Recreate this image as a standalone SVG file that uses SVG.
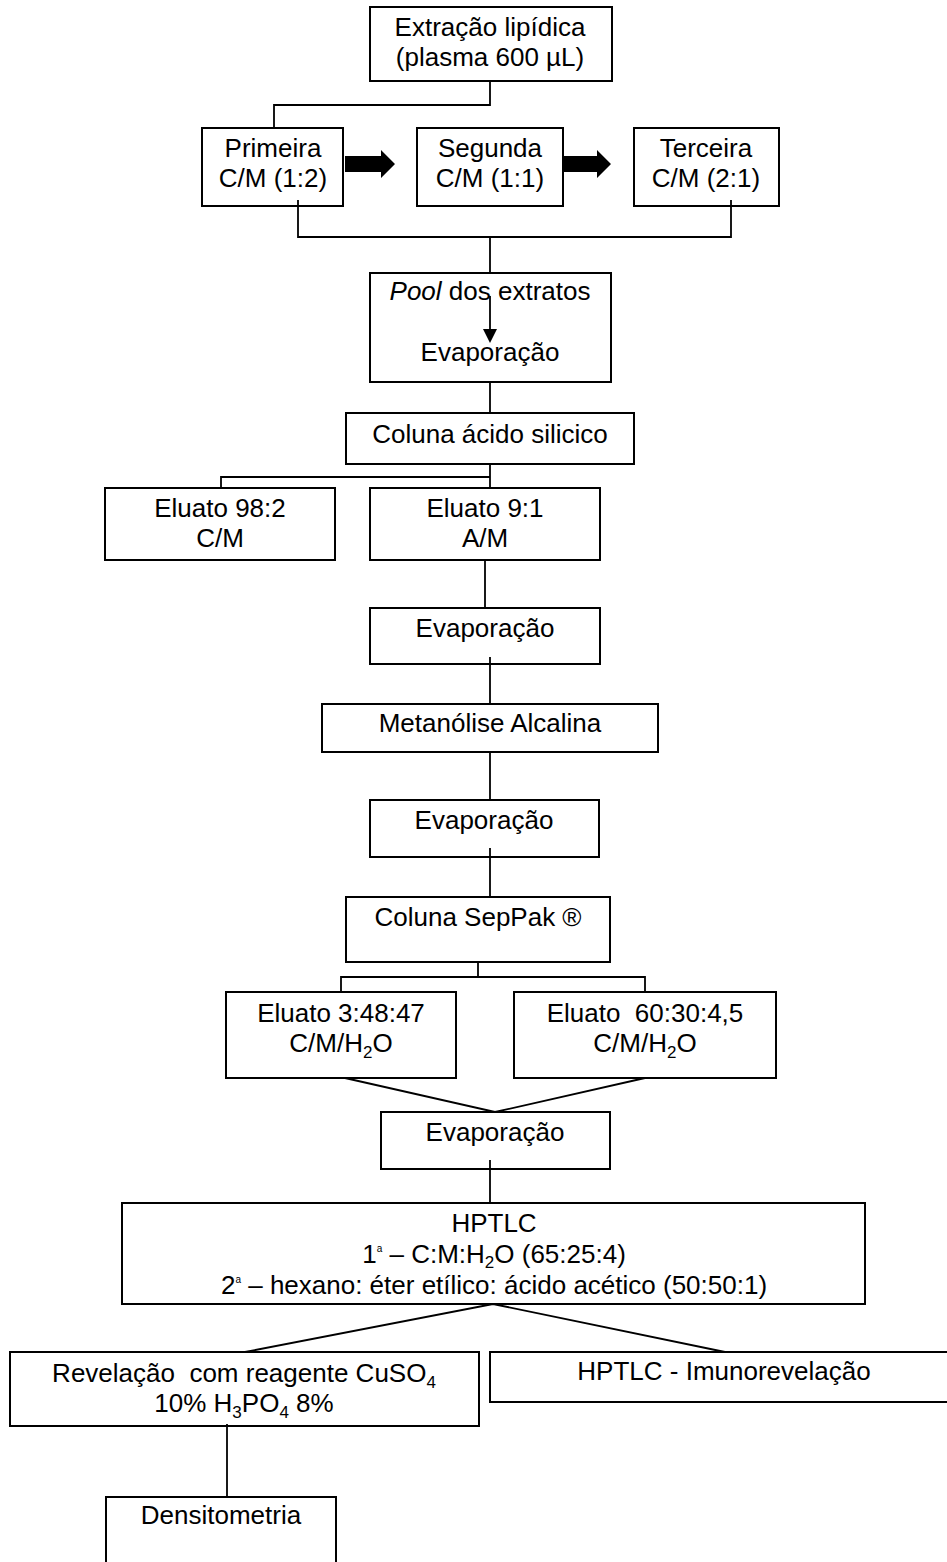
<svg xmlns="http://www.w3.org/2000/svg" width="947" height="1562" viewBox="0 0 947 1562">
<style>
rect.box{fill:#fff;stroke:#000;stroke-width:2}
.c line,.c polyline,.c path{fill:none;stroke:#000;stroke-width:1.8}
text{font-family:"Liberation Sans",Arial,sans-serif;font-size:26px;fill:#000;text-anchor:middle;white-space:pre}
.sub{font-size:17px}
.sup{font-size:10px}
</style>
<rect width="947" height="1562" fill="#fff"/>
<g id="n-extracao"><rect class="box" x="370" y="7" width="242" height="74"/>
<text x="490" y="36">Extração lipídica</text><text x="490" y="66">(plasma 600 µL)</text></g>
<g id="n-primeira"><rect class="box" x="202" y="128" width="141" height="78"/>
<text x="273" y="157">Primeira</text><text x="273" y="187">C/M (1:2)</text></g>
<g id="a1"><path d="M345,156 H381 V150 L395,164 L381,178 V172 H345 Z" fill="#000"/></g>
<g id="n-segunda"><rect class="box" x="417" y="128" width="146" height="78"/>
<text x="490" y="157">Segunda</text><text x="490" y="187">C/M (1:1)</text></g>
<g id="a2"><path d="M564,156 H597 V150 L611,164 L597,178 V172 H564 Z" fill="#000"/></g>
<g id="n-terceira"><rect class="box" x="634" y="128" width="145" height="78"/>
<text x="706" y="157">Terceira</text><text x="706" y="187">C/M (2:1)</text></g>
<g id="n-pool"><rect class="box" x="370" y="273" width="241" height="109"/>
<text x="490" y="300"><tspan font-style="italic">Pool</tspan> dos extratos</text>
<text x="490" y="361">Evaporação</text>
<line x1="490" y1="296" x2="490" y2="330" stroke="#000" stroke-width="1.8"/>
<path d="M483,329 L497,329 L490,343 Z" fill="#000"/></g>
<g id="n-coluna"><rect class="box" x="346" y="413" width="288" height="51"/>
<text x="490" y="443">Coluna ácido silicico</text></g>
<g id="n-eluato982"><rect class="box" x="105" y="488" width="230" height="72"/>
<text x="220" y="517">Eluato 98:2</text><text x="220" y="547">C/M</text></g>
<g id="n-eluato91"><rect class="box" x="370" y="488" width="230" height="72"/>
<text x="485" y="517">Eluato 9:1</text><text x="485" y="547">A/M</text></g>
<g id="n-evap1"><rect class="box" x="370" y="608" width="230" height="56"/>
<text x="485" y="637">Evaporação</text></g>
<g id="n-metanolise"><rect class="box" x="322" y="704" width="336" height="48"/>
<text x="490" y="732">Metanólise Alcalina</text></g>
<g id="n-evap2"><rect class="box" x="370" y="800" width="229" height="57"/>
<text x="484" y="829">Evaporação</text></g>
<g id="n-seppak"><rect class="box" x="346" y="897" width="264" height="65"/>
<text x="478" y="926">Coluna SepPak ®</text></g>
<g id="n-eluato34847"><rect class="box" x="226" y="992" width="230" height="86"/>
<text x="341" y="1022">Eluato 3:48:47</text><text x="341" y="1052">C/M/H<tspan class="sub" dy="6">2</tspan><tspan dy="-6">O</tspan></text></g>
<g id="n-eluato6030"><rect class="box" x="514" y="992" width="262" height="86"/>
<text x="645" y="1022">Eluato  60:30:4,5</text><text x="645" y="1052">C/M/H<tspan class="sub" dy="6">2</tspan><tspan dy="-6">O</tspan></text></g>
<g id="n-evap3"><rect class="box" x="381" y="1112" width="229" height="57"/>
<text x="495" y="1141">Evaporação</text></g>
<g id="n-hptlc"><rect class="box" x="122" y="1203" width="743" height="101"/>
<text x="494" y="1232">HPTLC</text>
<text x="494" y="1263">1<tspan class="sup" dy="-11">a</tspan><tspan dy="11"> – C:M:H</tspan><tspan class="sub" dy="5">2</tspan><tspan dy="-5">O (65:25:4)</tspan></text>
<text x="494" y="1294">2<tspan class="sup" dy="-11">a</tspan><tspan dy="11"> – hexano: éter etílico: ácido acético (50:50:1)</tspan></text></g>
<g id="n-revelacao"><rect class="box" x="10" y="1352" width="469" height="74"/>
<text x="244" y="1382">Revelação  com reagente CuSO<tspan class="sub" dy="6">4</tspan></text>
<text x="244" y="1412">10% H<tspan class="sub" dy="6">3</tspan><tspan dy="-6">PO</tspan><tspan class="sub" dy="6">4</tspan><tspan dy="-6"> 8%</tspan></text></g>
<g id="n-imuno"><rect class="box" x="490" y="1352" width="470" height="50"/>
<text x="724" y="1380">HPTLC - Imunorevelação</text></g>
<g id="n-densitometria"><rect class="box" x="106" y="1497" width="230" height="80"/>
<text x="221" y="1524">Densitometria</text></g>
<g class="c" id="connectors">
<polyline points="490,81 490,105 274,105 274,128"/>
<polyline points="298,200 298,237 731,237 731,200"/>
<line x1="490" y1="237" x2="490" y2="273"/>
<line x1="490" y1="382" x2="490" y2="413"/>
<polyline points="221,488 221,477 490,477"/>
<line x1="490" y1="464" x2="490" y2="488"/>
<line x1="485" y1="560" x2="485" y2="608"/>
<line x1="490" y1="657" x2="490" y2="704"/>
<line x1="490" y1="752" x2="490" y2="800"/>
<line x1="490" y1="848" x2="490" y2="897"/>
<line x1="478" y1="962" x2="478" y2="977"/>
<polyline points="341,992 341,977 645,977 645,992"/>
<polyline points="345,1078 495,1112 645,1078"/>
<line x1="490" y1="1160" x2="490" y2="1203"/>
<polyline points="245,1352 493,1304 725,1352"/>
<line x1="227" y1="1424" x2="227" y2="1497"/>
</g>
</svg>
